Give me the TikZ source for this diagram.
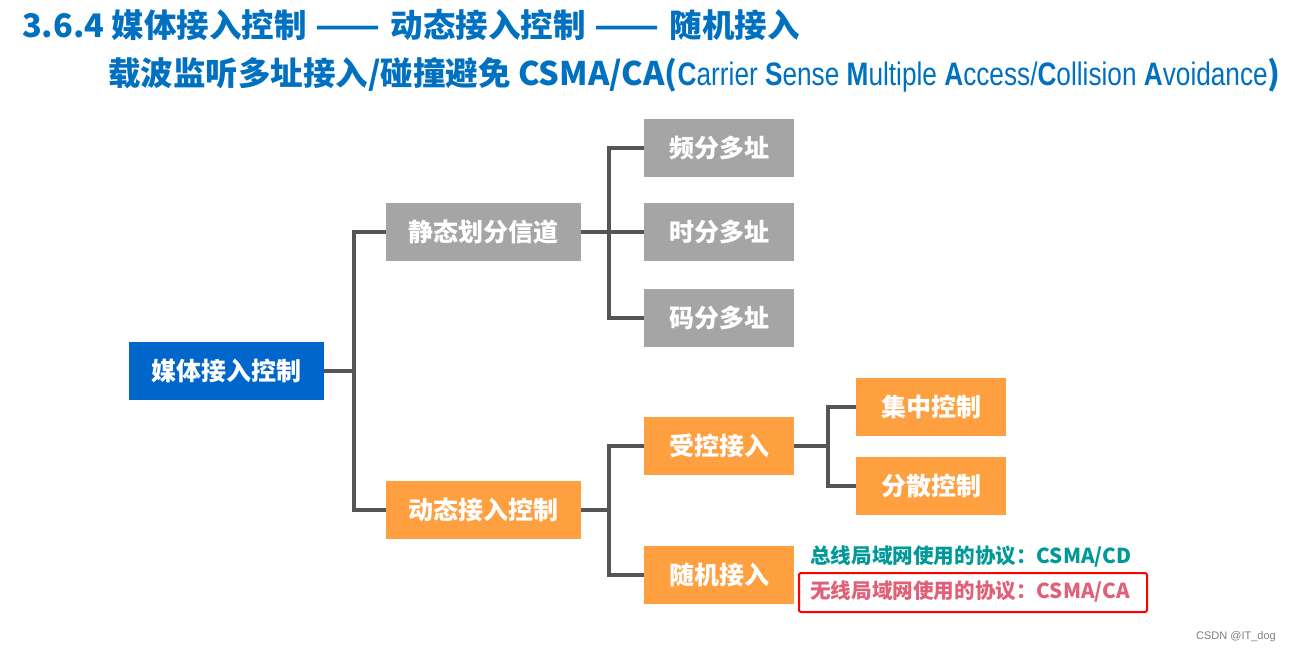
\documentclass[tikz,border=0pt]{standalone}
\usepackage{fontspec}
\usepackage{graphicx}
\setmainfont{Noto Sans CJK SC}
\newfontfamily\arialfont{Liberation Sans}
\usetikzlibrary{positioning}

\definecolor{rootblue}{RGB}{0,102,204}
\definecolor{titleblue}{RGB}{0,112,192}
\definecolor{boxgray}{RGB}{165,165,165}
\definecolor{boxorange}{RGB}{255,160,64}
\definecolor{linegray}{RGB}{85,85,85}
\definecolor{busteal}{RGB}{0,153,153}
\definecolor{wlanpink}{RGB}{224,96,120}

\newcommand{\longdash}{\hspace{9pt}\resizebox{65pt}{\height}{——}\hspace{10pt}}

\tikzset{
  box/.style={minimum width=150pt, minimum height=58pt, inner sep=0pt,
    text=white, font=\bfseries\fontsize{25}{25}\selectfont},
  graybox/.style={box, fill=boxgray},
  orangebox/.style={box, fill=boxorange},
  widebox/.style={minimum width=195pt},
  link/.style={linegray, line width=4pt},
  titletext/.style={anchor=west, inner sep=0pt, text=titleblue,
    font=\bfseries\fontsize{32.5}{32.5}\selectfont},
  prototext/.style={anchor=west, inner sep=0pt,
    font=\bfseries\fontsize{20.6}{20.6}\selectfont},
}

\begin{document}
\begin{tikzpicture}[x=1pt,y=-1pt]
    \useasboundingbox[fill=white] (0,0) rectangle (1290,654);
    %% title
    \node[titletext] (title) at (22,25) {3.6.4 媒体接入控制\longdash 动态接入控制\longdash 随机接入};
    \node[titletext] (subtitle) at (108,75) {载波监听多址接入/碰撞避免 CSMA/CA(\resizebox{590pt}{\height}{\mdseries\arialfont\textbf{C}arrier \textbf{S}ense \textbf{M}ultiple \textbf{A}ccess/\textbf{C}ollision \textbf{A}voidance})};
    %% root
    \node[box, widebox, fill=rootblue] (root) at (226,371) {媒体接入控制};
    %% level 1
    \node[graybox, widebox] (static) at (483.5,232) {静态划分信道};
    \node[orangebox, widebox] (dynamic) at (483.5,510) {动态接入控制};
    %% level 2
    \node[graybox] (fdma) at (719,148) {频分多址};
    \node[graybox] (tdma) at (719,232) {时分多址};
    \node[graybox] (cdma) at (719,318) {码分多址};
    \node[orangebox] (ctrl) at (719,446) {受控接入};
    \node[orangebox] (rand) at (719,575) {随机接入};
    %% level 3
    \node[orangebox] (central) at (931,407) {集中控制};
    \node[orangebox] (distrib) at (931,486) {分散控制};
    %% links
    \draw[link] (root.east) -- ++(30,0) coordinate (j0);
    \draw[link] (static.west) -- ++(-32,0) |- (dynamic.west);
    \draw[link] (static.east) -- (tdma.west);
    \draw[link] (fdma.west) -- ++(-35,0) |- (cdma.west);
    \draw[link] (dynamic.east) -- ++(28,0) coordinate (j2);
    \draw[link] (ctrl.west) -- ++(-35,0) |- (rand.west);
    \draw[link] (ctrl.east) -- ++(34,0) coordinate (j3);
    \draw[link] (central.west) -- ++(-28,0) |- (distrib.west);
    %% protocols
    \node[prototext, text=busteal] (bus) at (810,557) {总线局域网使用的协议：CSMA/CD};
    \node[prototext, text=wlanpink] (wlan) at (810,592) {无线局域网使用的协议：CSMA/CA};
    \node[draw=red, line width=2pt, rounded corners=2pt, minimum width=348pt,
      minimum height=39pt] (frame) at (973,592.5) {};
    %% watermark
    \node[anchor=east, inner sep=0pt, text=gray, font=\arialfont\fontsize{11}{11}\selectfont]
      (mark) at (1276,637) {CSDN @IT\_dog};
\end{tikzpicture}
\end{document}
